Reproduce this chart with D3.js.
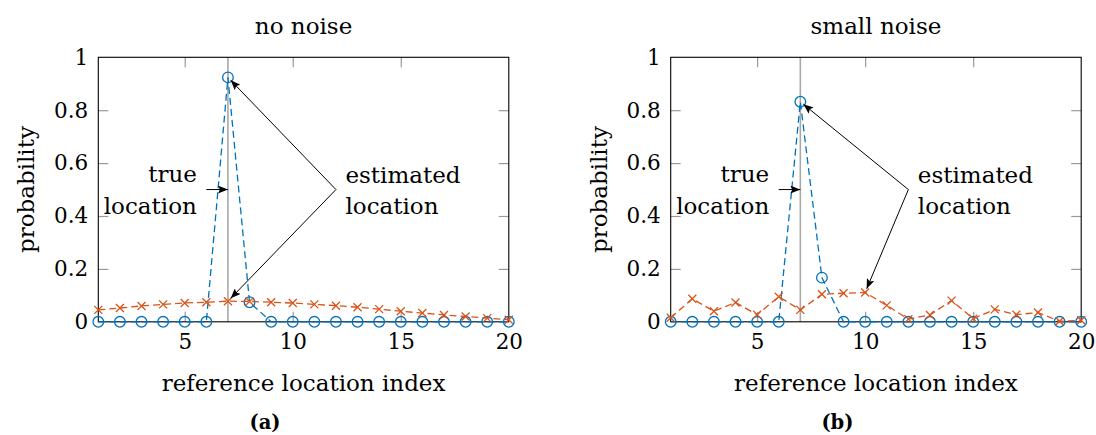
<!DOCTYPE html>
<html>
<head>
<meta charset="utf-8">
<script src="https://cdn.jsdelivr.net/npm/d3@7"></script>
<style>
  html, body { margin: 0; padding: 0; background: #fff; }
  svg { display: block; }
  text { font-family: "DejaVu Serif", serif; fill: #000; }
</style>
</head>
<body>
<svg id="chart" width="1096" height="435"></svg>
<script>
// Reference location indices (x axis)
const locationIndex = [1, 2, 3, 4, 5, 6, 7, 8, 9, 10, 11, 12, 13, 14, 15, 16, 17, 18, 19, 20];
const xTicks = [5, 10, 15, 20];
const yTicks = [0, 0.2, 0.4, 0.6, 0.8, 1];
const yTickLabels = ["0", "0.2", "0.4", "0.6", "0.8", "1"];

// (a) no noise
const noNoiseEstimated = [0, 0, 0, 0, 0, 0, 0.924, 0.074, 0, 0, 0, 0, 0, 0, 0, 0, 0, 0, 0, 0];
const noNoiseBaseline = [0.045, 0.052, 0.06, 0.066, 0.071, 0.074, 0.078, 0.077, 0.074, 0.071,
                         0.066, 0.061, 0.055, 0.048, 0.04, 0.033, 0.026, 0.02, 0.014, 0.008];

// (b) small noise
const smallNoiseEstimated = [0, 0, 0, 0, 0, 0, 0.832, 0.167, 0, 0, 0, 0, 0, 0, 0, 0, 0, 0, 0, 0];
const smallNoiseBaseline = [0.015, 0.087, 0.04, 0.073, 0.027, 0.095, 0.045, 0.104, 0.108, 0.111,
                            0.062, 0.01, 0.026, 0.08, 0.012, 0.047, 0.027, 0.035, 0.002, 0.006];

const trueLocation = 7;
const titles = ["no noise", "small noise"];
const captions = ["(a)", "(b)"];
const xLabel = "reference location index";
const yLabel = "probability";
const trueText = ["true", "location"];
const estText = ["estimated", "location"];

const BLUE = "#0072BD";
const ORANGE = "#D95319";

const svg = d3.select("#chart");

// arrowhead
svg.append("defs").append("marker")
  .attr("id", "arrowhead")
  .attr("markerUnits", "userSpaceOnUse")
  .attr("viewBox", "0 0 10 8")
  .attr("refX", 10).attr("refY", 4)
  .attr("markerWidth", 10).attr("markerHeight", 8)
  .attr("orient", "auto")
  .append("path")
  .attr("d", "M0,0 L10,4 L0,8 L2,4 Z")
  .attr("fill", "#000");

const panels = [
  { left: 98.3, estimated: noNoiseEstimated, baseline: noNoiseBaseline, title: titles[0], caption: captions[0],
    estTargets: [{ idx: 7, series: "estimated" }, { idx: 7, series: "baseline" }] },
  { left: 670.7, estimated: smallNoiseEstimated, baseline: smallNoiseBaseline, title: titles[1], caption: captions[1],
    estTargets: [{ idx: 7, series: "estimated" }, { idx: 10, series: "baseline" }] }
];

const plotW = 410.5, plotTop = 57.3, plotBottom = 321.8;

panels.forEach(p => {
  const x = d3.scaleLinear().domain([1, 20]).range([p.left, p.left + plotW]);
  const y = d3.scaleLinear().domain([0, 1]).range([plotBottom, plotTop]);
  const g = svg.append("g");

  // tick marks and labels
  const bx = g.append("g").attr("transform", `translate(0,${plotBottom})`)
    .call(d3.axisBottom(x).tickValues(xTicks).tickSizeInner(-10).tickSizeOuter(0).tickPadding(11.5));
  const tx = g.append("g").attr("transform", `translate(0,${plotTop})`)
    .call(d3.axisTop(x).tickValues(xTicks).tickSizeInner(-10).tickSizeOuter(0).tickFormat(""));
  const ly = g.append("g").attr("transform", `translate(${p.left},0)`)
    .call(d3.axisLeft(y).tickValues(yTicks).tickSizeInner(-10).tickSizeOuter(0).tickPadding(10)
      .tickFormat((d, i) => yTickLabels[i]));
  const ry = g.append("g").attr("transform", `translate(${p.left + plotW},0)`)
    .call(d3.axisRight(y).tickValues(yTicks).tickSizeInner(-10).tickSizeOuter(0).tickFormat(""));
  [bx, tx, ly, ry].forEach(a => {
    a.select(".domain").remove();
    a.selectAll(".tick line").attr("stroke", "#9a9a9a").attr("stroke-width", 1.2);
    a.selectAll(".tick text").style("font-family", "DejaVu Serif").style("font-size", "21.5px").attr("fill", "#000");
  });
  // no tick marks on the frame corners
  [bx, tx].forEach(a => a.selectAll(".tick line").filter(d => d === 20).remove());
  [ly, ry].forEach(a => a.selectAll(".tick line").filter(d => d === 0 || d === 1).remove());

  // true location line
  g.append("line")
    .attr("x1", x(trueLocation)).attr("x2", x(trueLocation))
    .attr("y1", y(1)).attr("y2", y(0))
    .attr("stroke", "#a8a8a8").attr("stroke-width", 1.6);

  // frame
  g.append("rect")
    .attr("x", x(1)).attr("y", y(1))
    .attr("width", x(20) - x(1)).attr("height", y(0) - y(1))
    .attr("fill", "none").attr("stroke", "#000").attr("stroke-width", 1.1);

  const line = d3.line().x((d, i) => x(locationIndex[i])).y(d => y(d));

  // estimated distribution
  g.append("path").datum(p.estimated).attr("d", line)
    .attr("fill", "none").attr("stroke", BLUE).attr("stroke-width", 1.3).attr("stroke-dasharray", "7,4");
  g.selectAll(".circ").data(p.estimated).enter().append("circle")
    .attr("cx", (d, i) => x(locationIndex[i])).attr("cy", d => y(d)).attr("r", 5.3)
    .attr("fill", "none").attr("stroke", BLUE).attr("stroke-width", 1.3);

  // comparison distribution
  g.append("path").datum(p.baseline).attr("d", line)
    .attr("fill", "none").attr("stroke", ORANGE).attr("stroke-width", 1.3).attr("stroke-dasharray", "7,4");
  const s = 4;
  g.selectAll(".cross").data(p.baseline).enter().append("path")
    .attr("d", (d, i) => {
      const cx = x(locationIndex[i]), cy = y(d);
      return `M${cx - s},${cy - s}L${cx + s},${cy + s}M${cx - s},${cy + s}L${cx + s},${cy - s}`;
    })
    .attr("fill", "none").attr("stroke", ORANGE).attr("stroke-width", 1.3);

  // annotations
  const ax = 12, ay = 0.5;
  // true location arrow
  g.append("line")
    .attr("x1", x(6)).attr("y1", y(ay)).attr("x2", x(trueLocation)).attr("y2", y(ay))
    .attr("stroke", "#000").attr("stroke-width", 1).attr("marker-end", "url(#arrowhead)");
  const tt = g.append("text").attr("text-anchor", "end").style("font-size", "23px");
  tt.append("tspan").attr("x", x(6) - 9.5).attr("y", y(ay) - 7.5).text(trueText[0]);
  tt.append("tspan").attr("x", x(6) - 9.5).attr("y", y(ay) + 24).text(trueText[1]);

  // estimated location arrows
  p.estTargets.forEach(t => {
    const v = (t.series === "estimated" ? p.estimated : p.baseline)[t.idx - 1];
    const x0 = x(ax), y0 = y(ay), x1 = x(t.idx), y1 = y(v);
    const len = Math.hypot(x1 - x0, y1 - y0);
    const k = (len - 4) / len;
    g.append("line")
      .attr("x1", x0).attr("y1", y0)
      .attr("x2", x0 + (x1 - x0) * k).attr("y2", y0 + (y1 - y0) * k)
      .attr("stroke", "#000").attr("stroke-width", 1).attr("marker-end", "url(#arrowhead)");
  });
  const et = g.append("text").attr("text-anchor", "start").style("font-size", "23px");
  et.append("tspan").attr("x", x(ax) + 9.5).attr("y", y(ay) - 6.5).text(estText[0]);
  et.append("tspan").attr("x", x(ax) + 9.5).attr("y", y(ay) + 24.5).text(estText[1]);

  // title, axis labels, caption
  const cx = p.left + plotW / 2;
  g.append("text").attr("x", cx).attr("y", 34).attr("text-anchor", "middle")
    .style("font-size", "23px").text(p.title);
  g.append("text").attr("x", cx).attr("y", 391).attr("text-anchor", "middle")
    .style("font-size", "23px").text(xLabel);
  g.append("text")
    .attr("transform", `translate(${p.left - 64},${(plotTop + plotBottom) / 2}) rotate(-90)`)
    .attr("text-anchor", "middle").style("font-size", "23px").text(yLabel);
  g.append("text").attr("x", cx - 38.5).attr("y", 429).attr("text-anchor", "middle")
    .style("font-size", "19.5px").style("font-weight", "bold").text(p.caption);
});
</script>
</body>
</html>
